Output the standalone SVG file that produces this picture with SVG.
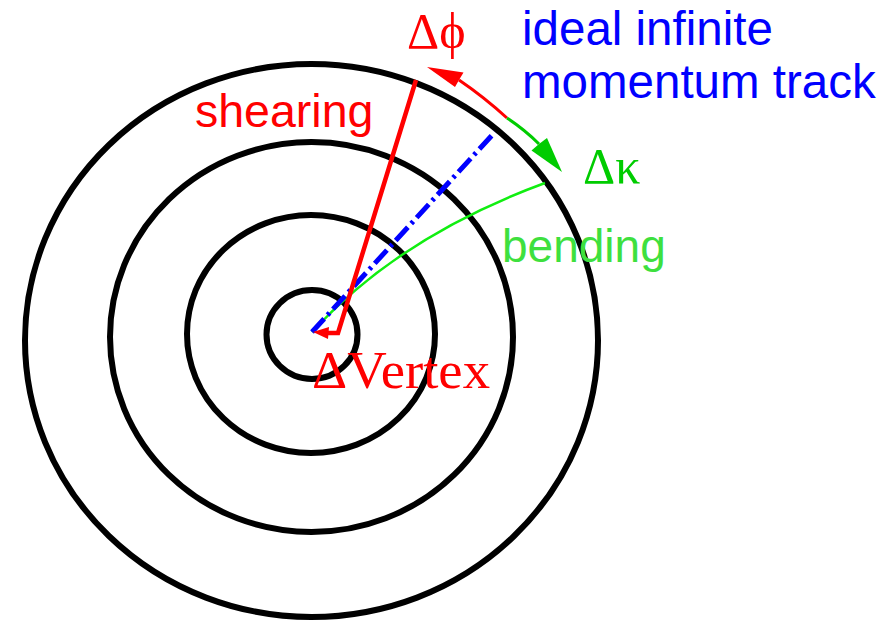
<svg xmlns="http://www.w3.org/2000/svg" width="895" height="620" viewBox="0 0 895 620">
<style>
.ring{fill:none;stroke:#000;stroke-width:6}
.sans{font-family:"Liberation Sans",Arial,sans-serif}
.serif{font-family:"Liberation Serif","Times New Roman",serif}
.red{fill:#ff0000}
.blue{fill:#0000ff}
.dgreen{fill:#00cc00}
.lgreen{fill:#3ee03e}
.head-red{fill:#ff0000}
.head-green{fill:#00cc00}
</style>
<rect width="895" height="620" fill="#fff"/>
<g id="rings">
<ellipse class="ring" cx="311.5" cy="340.5" rx="286.5" ry="276.5" stroke-width="5.5"/>
<ellipse class="ring" cx="311.5" cy="337" rx="201.5" ry="195"/>
<ellipse class="ring" cx="311" cy="334" rx="124" ry="119"/>
<ellipse class="ring" cx="312" cy="334.5" rx="45.5" ry="44.5"/>
</g>
<g id="connectors">
<path id="bending-curve" d="M312,332 Q400,236 545,183" fill="none" stroke="#11ee11" stroke-width="2.5"/>
<line id="ideal-track" x1="312" y1="332" x2="495" y2="132" stroke="#0000ff" stroke-width="5" stroke-dasharray="18 5 3 5"/>
<g id="shearing-track">
<polyline points="416,80 338,333 325,333" fill="none" stroke="#ff0000" stroke-width="4.5" stroke-linejoin="miter"/>
<polygon class="head-red" points="313,332 329,327 328,339"/>
</g>
<g id="dphi-arrow">
<path d="M507,118 Q484,97 459,80" fill="none" stroke="#ff0000" stroke-width="3"/>
<polygon class="head-red" points="427,67 463.5,72.5 459,80 455,87"/>
</g>
<g id="dkappa-arrow">
<path d="M507,118 Q525,130 539,144" fill="none" stroke="#00cc00" stroke-width="3"/>
<polygon class="head-green" points="562,172 531.5,150.5 539,144 547,138"/>
</g>
</g>
<g id="label-dphi"><text class="serif red" x="407" y="48" font-size="50">Δϕ</text></g>
<g id="label-track"><text class="sans blue" font-size="47.5"><tspan x="522" y="45">ideal infinite</tspan><tspan x="522" y="98">momentum track</tspan></text></g>
<g id="label-shearing"><text class="sans red" x="195" y="127" font-size="46.5">shearing</text></g>
<g id="label-dkappa"><text class="serif dgreen" x="583" y="183" font-size="50">Δκ</text></g>
<g id="label-bending"><text class="sans lgreen" x="502" y="262" font-size="46">bending</text></g>
<g id="label-vertex"><text class="serif red" x="312" y="388" font-size="53" textLength="178" lengthAdjust="spacingAndGlyphs">ΔVertex</text></g>
</svg>
